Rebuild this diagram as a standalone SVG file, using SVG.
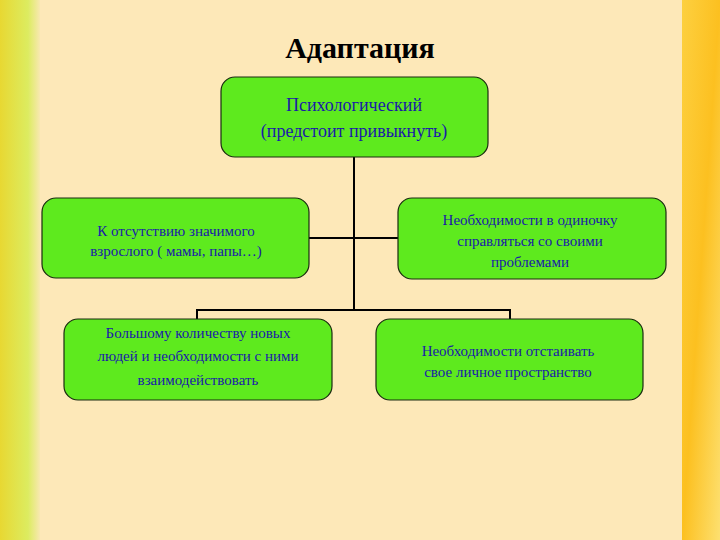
<svg xmlns="http://www.w3.org/2000/svg" width="720" height="540" viewBox="0 0 720 540">
<defs>
<linearGradient id="lg" x1="0" x2="1" y1="0" y2="0"><stop offset="0" stop-color="#e8d832"/><stop offset="0.7" stop-color="#dcec60"/><stop offset="1" stop-color="#f8e8b0"/></linearGradient>
<linearGradient id="rg" x1="0" x2="1" y1="0" y2="1"><stop offset="0" stop-color="#fdd040"/><stop offset="0.5" stop-color="#fcc020"/><stop offset="1" stop-color="#fde070"/></linearGradient>
<style>
.box{fill:#5eea1e;stroke:#1a2a10;stroke-width:1.2}
.t{font-family:"Liberation Serif",serif;fill:#1a1aa8;text-anchor:middle}
.c{stroke:#000;stroke-width:2;fill:none}
</style>
</defs>
<rect width="720" height="540" fill="#fde8b8"/>
<rect width="40" height="540" fill="url(#lg)"/>
<rect x="682" width="38" height="540" fill="url(#rg)"/>
<text x="360" y="58" font-family="Liberation Serif,serif" font-weight="bold" font-size="30" text-anchor="middle" fill="#000">Адаптация</text>
<g id="connectors">
<path class="c" d="M354 157V310M309 238H398M197 319V310H510V319"/>
</g>
<g id="top"><rect class="box" x="221" y="77" width="267" height="80" rx="14"/>
<text class="t" font-size="18"><tspan x="354" y="111">Психологический</tspan><tspan x="354" y="137">(предстоит привыкнуть)</tspan></text></g>
<g id="l1"><rect class="box" x="42" y="198" width="267" height="80" rx="14"/>
<text class="t" font-size="15"><tspan x="176" y="236">К отсутствию значимого</tspan><tspan x="176" y="256">взрослого ( мамы, папы…)</tspan></text></g>
<g id="r1"><rect class="box" x="398" y="198" width="268" height="81" rx="14"/>
<text class="t" font-size="15"><tspan x="530" y="225">Необходимости в одиночку</tspan><tspan x="530" y="246">справляться со своими</tspan><tspan x="530" y="267">проблемами</tspan></text></g>
<g id="l2"><rect class="box" x="64" y="319" width="268" height="81" rx="14"/>
<text class="t" font-size="15"><tspan x="198" y="338">Большому количеству новых</tspan><tspan x="198" y="361">людей и необходимости с ними</tspan><tspan x="198" y="385">взаимодействовать</tspan></text></g>
<g id="r2"><rect class="box" x="376" y="319" width="267" height="81" rx="14"/>
<text class="t" font-size="15"><tspan x="508" y="356">Необходимости отстаивать</tspan><tspan x="508" y="377">свое личное пространство</tspan></text></g>
</svg>
